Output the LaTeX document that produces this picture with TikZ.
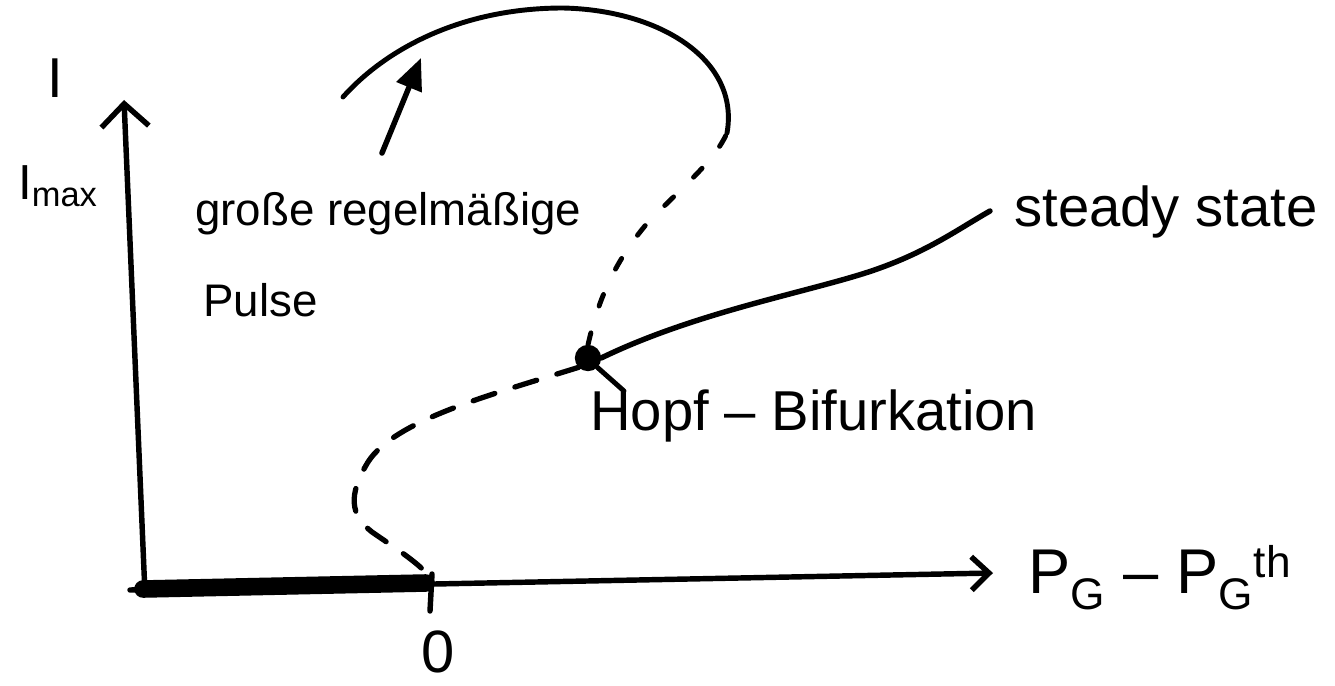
\documentclass[tikz,border=0pt]{standalone}
\usepackage{fontspec}
\setmainfont{Liberation Sans}
\usetikzlibrary{arrows.meta}
\begin{document}
\begin{tikzpicture}[x=0.02cm,y=-0.02cm, line cap=round, line join=round,
  stroke/.style={line width=3.1pt},
  curve/.style={line width=2.8pt},
  dashline/.style={line width=3pt, dash pattern=on 13pt off 12pt},
  dotline/.style={line width=2.8pt, dash pattern=on 7pt off 16pt},
  lbl/.style={inner sep=0pt, font=\fontsize{#1}{#1}\selectfont},
]
\useasboundingbox (0,0) rectangle (1335,686);
\fill[white] (0,0) rectangle (1335,686);

% coordinates
\coordinate (O) at (130,590);
\coordinate (ytip) at (124,100);
\coordinate (yfoot) at (145,594);
\coordinate (xtip) at (993,573);
\coordinate (zero) at (432,580);
\coordinate (ztop) at (432,574);
\coordinate (zbot) at (430,611);
\coordinate (arcA) at (727,133);
\coordinate (arcB) at (343,97);
\coordinate (arrS) at (382,153);
\coordinate (arrE) at (421,58);
\coordinate (ssend) at (990,211);
\coordinate (lead) at (624,391);

% thick stable branch at zero
\draw[line width=10pt] (143,589) -- (426,583);
\draw[white, line width=0.9pt, dash pattern=on 14pt off 12pt] (175,588.5) -- (420,583.5);

% axes
\draw[stroke, -{Straight Barb[length=13pt,width=27pt,line width=3.1pt]}] (yfoot) -- (ytip);
\draw[stroke, -{Straight Barb[length=10pt,width=19pt,line width=3.1pt]}] (O) -- (xtip);
\draw[stroke] (ztop) -- (zbot);

% labels
\node[lbl=32] (Ilbl) at (55,78) {I};
\node[lbl=28] (Imax) at (58,186) {I\textsubscript{max}};
\node[lbl=34] (zerolbl) at (438,652) {0};
\node[lbl=36, anchor=west] (xlbl) at (1028,578) {P\textsubscript{G} -- P\textsubscript{G}\textsuperscript{th}};
\node[lbl=26, anchor=west] (pulse1) at (195,214) {große regelmäßige};
\node[lbl=26, anchor=west] (pulse2) at (203,300) {Pulse};
\node[lbl=32, anchor=west] (steady) at (1014,212) {steady state};
\node[lbl=32, anchor=west] (hopflbl) at (590,416) {Hopf -- Bifurkation};

% Hopf point
\node[circle, fill=black, draw=black, line width=1pt, minimum size=14pt, inner sep=0pt] (hopf) at (588,358) {};
\draw[curve] (hopf.south east) -- (lead);

% steady state branch
\draw[stroke] (hopf.east) .. controls (700,310) and (820,290) .. (880,268) .. controls (930,250) and (960,228) .. (ssend);

% unstable branch down to zero
\draw[dashline] (hopf.south west) .. controls (490,395) and (395,420) .. (368,462)
  .. controls (348,495) and (350,515) .. (372,532) .. controls (398,550) and (422,565) .. (zero);

% upward branch to the periodic orbit
\draw[dotline] (hopf.north) .. controls (598,300) and (615,260) .. (650,220) .. controls (685,185) and (715,160) .. (arcA);

% large periodic orbit
\draw[curve] (arcA) .. controls (740,60) and (660,10) .. (563,8) .. controls (460,8) and (385,50) .. (arcB);

% arrow to the orbit
\draw[stroke, -{Triangle[length=18pt,width=15pt]}] (arrS) -- (arrE);
\end{tikzpicture}
\end{document}
